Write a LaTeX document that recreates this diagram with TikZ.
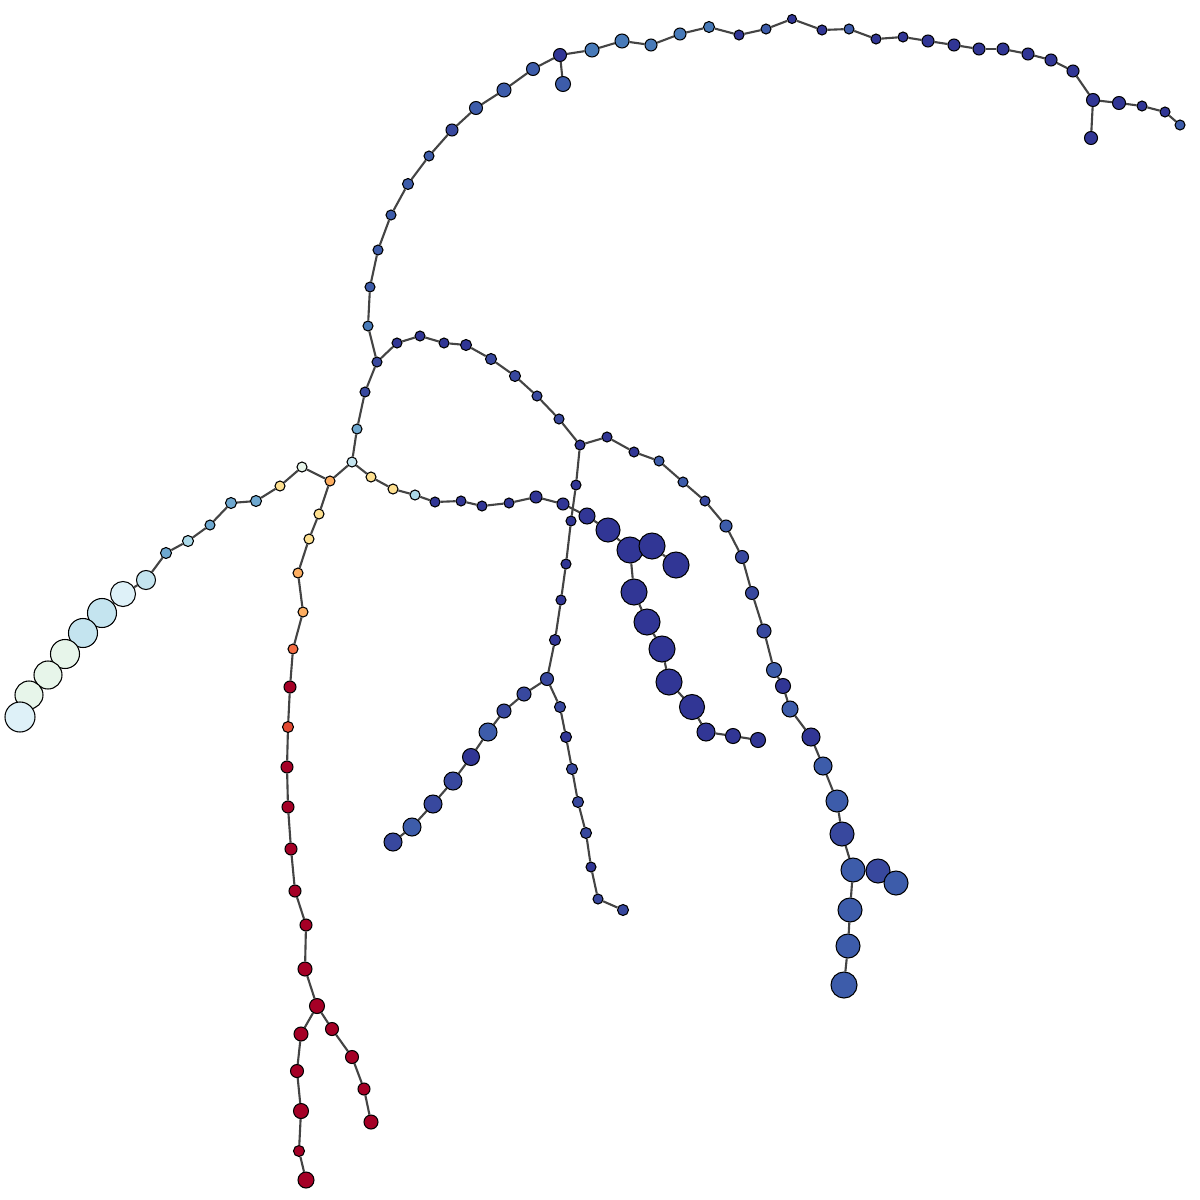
\documentclass[tikz,border=0pt]{standalone}
\usepackage{xcolor}
\usepackage{tikz}
\pgfdeclarelayer{back}
\pgfsetlayers{back,main}

\begin{document}
\begin{tikzpicture}[x=0.01cm,y=-0.01cm,
    vertex/.style={circle, draw=black, line width=0.3pt, inner sep=0pt},
    edge/.style={draw=edgeColor, line width=0.6pt}]
    \definecolor{edgeColor}{RGB}{68,68,68}
    \definecolor{nA}{RGB}{49,54,149}
    \definecolor{nB}{RGB}{56,72,158}
    \definecolor{nC}{RGB}{61,92,170}
    \definecolor{nD}{RGB}{72,122,184}
    \definecolor{nE}{RGB}{110,168,208}
    \definecolor{nF}{RGB}{171,217,233}
    \definecolor{nG}{RGB}{196,228,239}
    \definecolor{nH}{RGB}{222,241,248}
    \definecolor{nI}{RGB}{231,245,234}
    \definecolor{nJ}{RGB}{254,224,144}
    \definecolor{nK}{RGB}{253,174,97}
    \definecolor{nL}{RGB}{244,109,67}
    \definecolor{nN}{RGB}{227,74,51}
    \definecolor{nM}{RGB}{165,0,38}

    \newcommand{\vtx}[5]{
        \node[vertex, minimum size=#4*0.2mm, fill=#5] (#1) at (#2,#3) {};
    }

    \useasboundingbox (0,0) rectangle (1200,1200);

    \vtx{hub}{352}{462}{5}{nG}
    \vtx{o1}{330}{481}{5}{nK}

    \foreach \n/\x/\y/\r/\c in {l1/302/467/5/nI, l2/280/486/5/nJ, l3/256/501/5.5/nE,
        l4/231/503/5.5/nE, l5/210/525/5/nE, l6/188/541/5.5/nF, l7/166/553/5.5/nE,
        l8/146/580/9.5/nG, l9/123/594/12.5/nH, l10/102/613/14.5/nG, l11/83/633/14.5/nG,
        l12/65/654/14.5/nI, l13/48/675/14/nI, l14/29/695/14/nI, l15/20/717/15/nH}
        {\vtx{\n}{\x}{\y}{\r}{\c}}

    \foreach \n/\x/\y/\r/\c in {d1/319/514/5/nJ, d2/309/539/5/nJ, d3/298/573/5/nK,
        d4/303/612/5/nK, d5/293/649/5/nL, d6/290/687/6/nM, d7/288/727/5.5/nN,
        d8/287/767/6/nM, d9/288/807/6/nM, d10/291/849/6/nM, d11/295/891/6/nM,
        d12/306/925/6/nM, d13/305/969/7/nM, d14/317/1006/7.5/nM,
        e1/301/1034/7/nM, e2/297/1071/6.5/nM, e3/301/1111/7.5/nM, e4/299/1151/5.5/nM,
        e5/306/1180/8/nM,
        f1/332/1029/6.5/nM, f2/352/1057/6.5/nM, f3/364/1089/6/nM, f4/371/1122/7/nM}
        {\vtx{\n}{\x}{\y}{\r}{\c}}

    \foreach \n/\x/\y/\r/\c in {m1/371/477/5/nJ, m2/393/489/5/nJ, m3/415/495/5/nF,
        m4/435/502/5/nA, m5/461/501/5/nA, m6/482/506/5/nA, m7/509/503/5/nA,
        m8/536/497/6/nA, m9/563/504/6/nA, m10/587/516/8/nA, m11/608/530/12/nA,
        m12/630/550/13/nA, m13/652/546/13/nA, m14/676/565/13/nA, m15/634/592/13/nA,
        m16/647/622/13/nA, m17/662/649/13/nA, m18/669/682/13/nA, m19/692/707/12.5/nA,
        m20/706/732/9/nA, m21/733/736/7.5/nA, m22/758/740/7.5/nA}
        {\vtx{\n}{\x}{\y}{\r}{\c}}

    \foreach \n/\x/\y/\r/\c in {v1/357/429/5/nE, v2/365/392/5/nB, v3/377/362/5/nB,
        p1/397/343/5/nA, p2/420/336/5/nA, p3/444/343/5/nA, p4/466/345/5.5/nA,
        p5/491/359/5.5/nB, p6/515/376/5.5/nB, p7/537/396/5/nB, p8/559/419/5/nB,
        p9/580/445/5/nA,
        t1/576/485/5/nA, t2/571/521/5/nA, t3/566/564/5/nA, t4/561/600/5/nA,
        t5/555/640/5.5/nA, t6/547/679/6.5/nB}
        {\vtx{\n}{\x}{\y}{\r}{\c}}

    \foreach \n/\x/\y/\r/\c in {s1/524/694/7/nB, s2/504/711/7/nB, s3/488/732/9/nC,
        s4/471/757/8.5/nA, s5/453/781/9/nB, s6/433/804/9/nB, s7/412/827/9/nC,
        s8/393/842/9/nB,
        q1/560/707/5.5/nB, q2/566/737/5.5/nA, q3/572/769/5.5/nB, q4/578/802/5.5/nB,
        q5/586/833/5.5/nB, q6/591/867/5/nA, q7/598/899/5/nB, q8/623/910/5.5/nB}
        {\vtx{\n}{\x}{\y}{\r}{\c}}

    \foreach \n/\x/\y/\r/\c in {r1/607/437/5/nA, r2/634/452/5/nA, r3/659/461/5/nC,
        r4/683/482/5/nC, r5/705/501/5/nB, r6/726/526/6/nC, r7/742/557/6.5/nB,
        r8/752/593/6.5/nB, r9/764/631/7/nB, r10/774/670/7.5/nC, r11/783/686/7.5/nA,
        r12/790/709/8/nC, r13/811/737/9/nA, r14/823/766/9/nC, r15/837/801/11/nC,
        r16/842/834/12/nB, r17/853/870/12/nC, r18/878/871/12/nB, r19/896/883/12/nC,
        r20/850/910/12/nC, r21/848/946/12/nC, r22/844/985/13/nC}
        {\vtx{\n}{\x}{\y}{\r}{\c}}

    \foreach \n/\x/\y/\r/\c in {a1/368/326/5/nD, a2/370/287/5/nC, a3/378/250/5/nC,
        a4/391/215/5/nC, a5/408/184/5.5/nC, a6/429/156/5/nC, a7/452/130/6/nB,
        a8/476/108/6.5/nC, a9/504/90/7/nC, a10/533/69/6.5/nC, a11/560/55/6.5/nA,
        a12/592/50/7/nD, a13/622/41/7/nD, a14/651/45/6/nD, a15/680/34/6/nD,
        a16/709/27/5.5/nD, a17/739/35/5/nA, a18/766/29/5/nC, a19/792/19/4.5/nA,
        a20/822/30/5/nA, a21/849/29/5/nC, a22/876/39/5/nA, a23/903/37/5/nA,
        a24/928/41/6/nA, a25/954/45/6/nA, a26/979/49/6/nA, a27/1003/49/6/nA,
        a28/1028/54/6/nA, a29/1051/60/6/nA, a30/1073/71/6/nA, a31/1093/100/6.5/nA,
        a32/1119/103/6.5/nA, a33/1142/106/5/nA, a34/1165/112/5/nA, a35/1180/125/5/nC,
        b1/563/84/7.5/nC, b2/1091/138/6.5/nA}
        {\vtx{\n}{\x}{\y}{\r}{\c}}

    \begin{pgfonlayer}{back}
        \foreach \a/\b in {hub/o1, o1/l1, o1/d1, d14/e1, d14/f1, hub/m1, m12/m13,
            m13/m14, m12/m15, hub/v1, v1/v2, v2/v3, v3/p1, p9/t1, t6/s1, t6/q1,
            p9/r1, r17/r18, r18/r19, r17/r20, r20/r21, r21/r22, v3/a1, a11/b1,
            a31/b2}
            \draw[edge] (\a) -- (\b);
        \foreach \i in {1,...,14} {\pgfmathtruncatemacro{\j}{\i+1} \draw[edge] (l\i) -- (l\j);}
        \foreach \i in {1,...,13} {\pgfmathtruncatemacro{\j}{\i+1} \draw[edge] (d\i) -- (d\j);}
        \foreach \i in {1,...,4} {\pgfmathtruncatemacro{\j}{\i+1} \draw[edge] (e\i) -- (e\j);}
        \foreach \i in {1,...,3} {\pgfmathtruncatemacro{\j}{\i+1} \draw[edge] (f\i) -- (f\j);}
        \foreach \i in {1,...,11} {\pgfmathtruncatemacro{\j}{\i+1} \draw[edge] (m\i) -- (m\j);}
        \foreach \i in {15,...,21} {\pgfmathtruncatemacro{\j}{\i+1} \draw[edge] (m\i) -- (m\j);}
        \foreach \i in {1,...,8} {\pgfmathtruncatemacro{\j}{\i+1} \draw[edge] (p\i) -- (p\j);}
        \foreach \i in {1,...,5} {\pgfmathtruncatemacro{\j}{\i+1} \draw[edge] (t\i) -- (t\j);}
        \foreach \i in {1,...,7} {\pgfmathtruncatemacro{\j}{\i+1} \draw[edge] (s\i) -- (s\j);}
        \foreach \i in {1,...,7} {\pgfmathtruncatemacro{\j}{\i+1} \draw[edge] (q\i) -- (q\j);}
        \foreach \i in {1,...,16} {\pgfmathtruncatemacro{\j}{\i+1} \draw[edge] (r\i) -- (r\j);}
        \foreach \i in {1,...,34} {\pgfmathtruncatemacro{\j}{\i+1} \draw[edge] (a\i) -- (a\j);}
    \end{pgfonlayer}
\end{tikzpicture}
\end{document}
